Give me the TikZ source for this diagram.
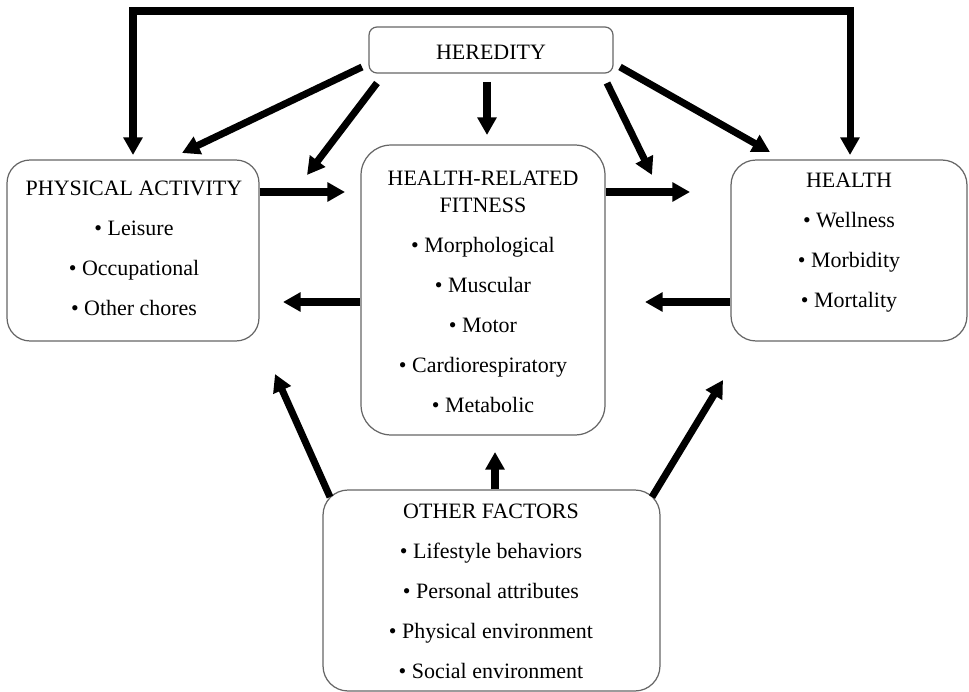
\documentclass[tikz,border=0pt]{standalone}
\usepackage{fontspec}
\setmainfont{Liberation Serif}
\usetikzlibrary{arrows.meta}
\begin{document}
\begin{tikzpicture}[x=0.02cm,y=-0.02cm,
  box/.style={draw=black!60, line width=0.7pt, rectangle, inner sep=0pt},
  txt/.style={align=center, inner sep=0pt, anchor=north, font=\fontsize{12.5}{22.76}\selectfont},
  tipa/.style={Triangle[length=10pt,width=10.5pt]},
  conn/.style={line width=4pt, -{Triangle[length=10pt,width=10.5pt]}},
]
\useasboundingbox (0,0) rectangle (969,692);

% boxes
\node[box, minimum width=4.88cm, minimum height=0.92cm, rounded corners=0.16cm] (her) at (491,50) {};
\node[box, minimum width=5.04cm, minimum height=3.62cm, rounded corners=0.46cm] (pa) at (133,250.5) {};
\node[box, minimum width=4.88cm, minimum height=5.8cm, rounded corners=0.6cm] (hrf) at (483,290) {};
\node[box, minimum width=4.72cm, minimum height=3.62cm, rounded corners=0.5cm] (hl) at (849,250.5) {};
\node[box, minimum width=6.74cm, minimum height=4.02cm, rounded corners=0.5cm] (of) at (491.5,590.5) {};

% texts
\node[txt, anchor=base] (her-t) at (491,60) {HEREDITY};
\node[txt] (pa-t) at (134,180.5) {PHYSICAL ACTIVITY\\• Leisure\\• Occupational\\• Other chores};
\node[txt] (hrf-t) at (483,170.5) {HEALTH-RELATED\\[-7.4pt]FITNESS\\• Morphological\\• Muscular\\• Motor\\• Cardiorespiratory\\• Metabolic};
\node[txt] (hl-t) at (849,172.5) {HEALTH\\• Wellness\\• Morbidity\\• Mortality};
\node[txt] (of-t) at (491,503.5) {OTHER FACTORS\\• Lifestyle behaviors\\• Personal attributes\\• Physical environment\\• Social environment};

% coordinates
\coordinate (t1) at (133,155);
\coordinate (t2) at (133,11);
\coordinate (t3) at (850,11);
\coordinate (t4) at (850,155);
\coordinate (h2s) at (362,67);  \coordinate (h2e) at (182,153);
\coordinate (h3s) at (377,83);  \coordinate (h3e) at (307,175);
\coordinate (h4s) at (487,82);  \coordinate (h4e) at (487,135);
\coordinate (h5s) at (607,83);  \coordinate (h5e) at (652,175);
\coordinate (h6s) at (620,67);  \coordinate (h6e) at (770,152);
\coordinate (a7) at (345,192);
\coordinate (a8) at (690,192);
\coordinate (a9) at (283,302);
\coordinate (a10) at (645,302);
\coordinate (o1s) at (330,497); \coordinate (o1e) at (275,374);
\coordinate (a12) at (495,452);
\coordinate (o3s) at (652,497); \coordinate (o3e) at (723,380);

% connectors
\draw[line width=4pt, {Triangle[length=10pt,width=10.5pt]}-{Triangle[length=10pt,width=10.5pt]}] (t1) -- (t2) -- (t3) -- (t4);
\draw[conn] (h2s) -- (h2e);
\draw[conn] (h3s) -- (h3e);
\draw[conn] (h4s) -- (h4e);
\draw[conn] (h5s) -- (h5e);
\draw[conn] (h6s) -- (h6e);
\draw[conn] (pa.east |- a7) -- (a7);
\draw[conn] (hrf.east |- a8) -- (a8);
\draw[conn] (hrf.west |- a9) -- (a9);
\draw[conn] (hl.west |- a10) -- (a10);
\draw[conn] (of.north -| a12) -- (a12);
\draw[conn] (o1s) -- (o1e);
\draw[conn] (o3s) -- (o3e);
\end{tikzpicture}
\end{document}
